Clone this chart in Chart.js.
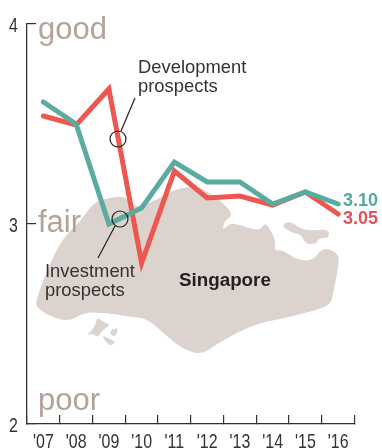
<!DOCTYPE html>
<html>
<head>
<meta charset="utf-8">
<style>
  html, body { margin: 0; padding: 0; background: #fff; }
  canvas { display: block; }
</style>
<script src="https://cdn.jsdelivr.net/npm/chart.js@4"></script>
</head>
<body>
<canvas id="chart" width="382" height="448"></canvas>
<script>
const years = ["'07", "'08", "'09", "'10", "'11", "'12", "'13", "'14", "'15", "'16"];
const development = [3.54, 3.495, 3.675, 2.805, 3.265, 3.13, 3.14, 3.095, 3.16, 3.05];
const investment = [3.61, 3.5, 3.0, 3.08, 3.31, 3.21, 3.21, 3.10, 3.16, 3.10];
const yTicks = [2, 3, 4];

// map outline (page pixels)
const mainIsland = [
    [35, 306], [38, 295], [50, 263], [63, 238], [80, 222], [93, 203], [107, 198], [123, 196], [130, 202],
    [138, 208], [160, 198], [173, 190], [193, 186], [207, 191], [223, 203], [231, 212], [231, 217],
    [225, 220], [222, 231], [230, 223], [240, 225], [253, 229], [260, 230], [265, 223], [270, 229],
    [276, 242], [274, 251], [283, 250], [295, 259], [307, 261], [315, 258], [320, 251], [327, 248],
    [338, 254], [339, 262], [334, 290], [331, 303], [323, 308], [290, 317], [260, 323], [240, 331],
    [217, 344], [201, 355], [183, 349], [170, 339], [148, 319], [133, 317], [100, 312], [83, 313],
    [68, 322], [47, 315]
];
const smallIslands = [
    [[281, 225], [290, 221], [298, 227], [308, 231], [329, 229], [329, 238], [318, 238], [317, 244], [305, 244], [302, 235], [290, 232]],
    [[86, 336], [95, 327], [97, 317], [103, 322], [111, 325], [102, 330], [98, 338], [93, 333]],
    [[109, 331], [118, 327], [117, 334], [113, 337]],
    [[102, 335], [108, 338], [116, 342], [110, 346], [105, 341]]
];

function smoothShape(ctx, pts) {
    ctx.beginPath();
    const n = pts.length;
    ctx.moveTo((pts[n - 1][0] + pts[0][0]) / 2, (pts[n - 1][1] + pts[0][1]) / 2);
    for (let i = 0; i < n; i++) {
        const next = pts[(i + 1) % n];
        ctx.quadraticCurveTo(pts[i][0], pts[i][1], (pts[i][0] + next[0]) / 2, (pts[i][1] + next[1]) / 2);
    }
    ctx.closePath();
    ctx.fill();
}

function text(ctx, str, x, y, font, color) {
    ctx.font = font;
    ctx.fillStyle = color;
    ctx.fillText(str, x, y);
}

// no narrow font installed, so squeeze Liberation Sans for the tick labels
function narrowText(ctx, str, x, y, align) {
    ctx.save();
    ctx.translate(x, y);
    ctx.scale(0.76, 1);
    ctx.textAlign = align;
    text(ctx, str, 0, 0, '21px "Liberation Sans"', '#333333');
    ctx.restore();
}

const mapPlugin = {
    id: 'mapBackground',
    beforeDatasetsDraw(chart) {
        const ctx = chart.ctx;
        ctx.save();
        ctx.fillStyle = '#dcd2ce';
        smoothShape(ctx, mainIsland);
        smallIslands.forEach(p => smoothShape(ctx, p));

        const big = '31px "Liberation Sans"';
        text(ctx, 'good', 38, 39, big, '#b5a399');
        text(ctx, 'fair', 38, 232, big, '#b5a399');
        text(ctx, 'poor', 38, 410, big, '#b5a399');
        text(ctx, 'Singapore', 179, 286, 'bold 18.8px "Liberation Sans"', '#231f20');
        ctx.restore();
    }
};

const notesPlugin = {
    id: 'notes',
    afterDatasetsDraw(chart) {
        const ctx = chart.ctx;
        ctx.save();
        const note = '18.4px "Liberation Sans"';
        text(ctx, 'Development', 138, 73, note, '#333333');
        text(ctx, 'prospects', 138, 92, note, '#333333');
        text(ctx, 'Investment', 45, 277, note, '#333333');
        text(ctx, 'prospects', 45, 296, note, '#333333');
        text(ctx, '3.10', 343, 206, 'bold 18px "Liberation Sans"', '#57a9a0');
        text(ctx, '3.05', 343, 224, 'bold 18px "Liberation Sans"', '#e2505a');

        ctx.strokeStyle = '#231f20';
        ctx.lineWidth = 1.2;
        ctx.beginPath();
        ctx.arc(118, 139, 8, 0, Math.PI * 2);
        ctx.moveTo(121, 131);
        ctx.lineTo(135, 98);
        ctx.moveTo(128, 219);
        ctx.arc(120, 219, 8, 0, Math.PI * 2);
        ctx.moveTo(115, 226);
        ctx.lineTo(98, 258);
        ctx.stroke();

        // tick labels placed from the chart's own scales
        const { x, y } = chart.scales;
        years.forEach((label, i) => narrowText(ctx, label, x.getPixelForValue(i), 448, 'center'));
        yTicks.forEach(v => narrowText(ctx, String(v), 18, y.getPixelForValue(v) + 7.5, 'right'));
        ctx.restore();
    }
};

new Chart(document.getElementById('chart'), {
    type: 'line',
    data: {
        labels: years,
        datasets: [
            { label: 'Investment prospects', data: investment, borderColor: '#5aaca0' },
            { label: 'Development prospects', data: development, borderColor: '#ef564f' }
        ]
    },
    options: {
        responsive: false,
        animation: false,
        layout: { padding: { top: 24, right: 27.5 } },
        elements: {
            point: { radius: 0 },
            line: { borderWidth: 5, tension: 0, borderCapStyle: 'round', borderJoinStyle: 'miter' }
        },
        plugins: { legend: { display: false }, tooltip: { enabled: false } },
        scales: {
            x: {
                offset: true,
                grid: { offset: true, drawOnChartArea: false, tickLength: -9, color: '#333333', lineWidth: 1.2 },
                border: { color: '#333333', width: 1.3 },
                ticks: { display: false, autoSkip: false },
                afterFit(scale) { scale.height = 24; }
            },
            y: {
                min: 2,
                max: 4,
                afterBuildTicks(scale) { scale.ticks = yTicks.map(v => ({ value: v })); },
                grid: { drawOnChartArea: false, tickLength: -9, color: '#333333', lineWidth: 1.2 },
                border: { color: '#333333', width: 1.3 },
                ticks: { display: false },
                afterFit(scale) { scale.width = 27; }
            }
        }
    },
    plugins: [mapPlugin, notesPlugin]
});
</script>
</body>
</html>
